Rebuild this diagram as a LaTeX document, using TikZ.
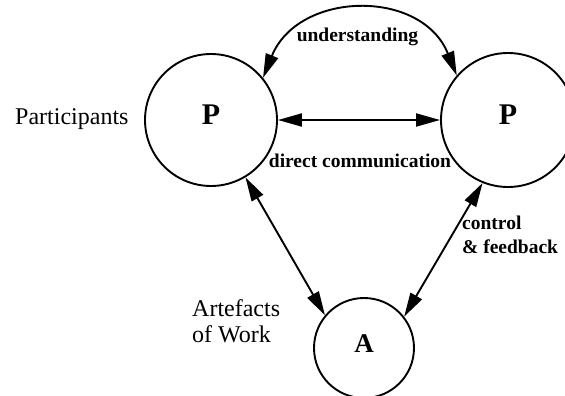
\documentclass[tikz,border=0pt]{standalone}
\usepackage{fontspec}
\setmainfont{Liberation Serif}
\usetikzlibrary{arrows.meta}
\begin{document}
\begin{tikzpicture}[x=1pt,y=-1pt,
  agent/.style={circle,draw,line width=1.9pt,inner sep=0pt},
  link/.style={line width=1.9pt,{Triangle[length=24pt,width=13pt]}-{Triangle[length=24pt,width=13pt]}},
  caption/.style={font=\fontsize{24}{26}\selectfont,inner sep=0pt},
  linklabel/.style={font=\bfseries\fontsize{19.5}{24}\selectfont,inner sep=0pt}]
\useasboundingbox (0,0) rectangle (565,396);

% participants and the shared artefact
\node[agent,minimum size=132pt,text depth=10pt,
      font=\bfseries\fontsize{30}{30}\selectfont] (p1) at (211,120) {P};
\node[agent,minimum size=134pt,text depth=10pt,
      font=\bfseries\fontsize{30}{30}\selectfont] (p2) at (508,120) {P};
\node[agent,minimum size=100pt,text depth=8pt,
      font=\bfseries\fontsize{27}{27}\selectfont] (a) at (364,348) {A};

% connections
\draw[link] (p1.east) -- (p2.west);
\draw[link] (p1.39) to[out=68,in=112,looseness=1.24] (p2.139);
\draw[link] (p1.-59) -- (a.140);
\draw[link] (p2.248) -- (a.38);

% labels
\node[caption,anchor=base west] (lblpart) at (15,124) {Participants};
\node[caption,anchor=base west,align=left] (lblart) at (192,342) {Artefacts\\of Work};
\node[linklabel,anchor=base] (lblund) at (357.5,42) {understanding};
\node[linklabel,anchor=base] (lbldir) at (360,167) {direct communication};
\node[linklabel,anchor=base west,align=left] (lblctl) at (462,253) {control\\\& feedback};
\end{tikzpicture}
\end{document}
